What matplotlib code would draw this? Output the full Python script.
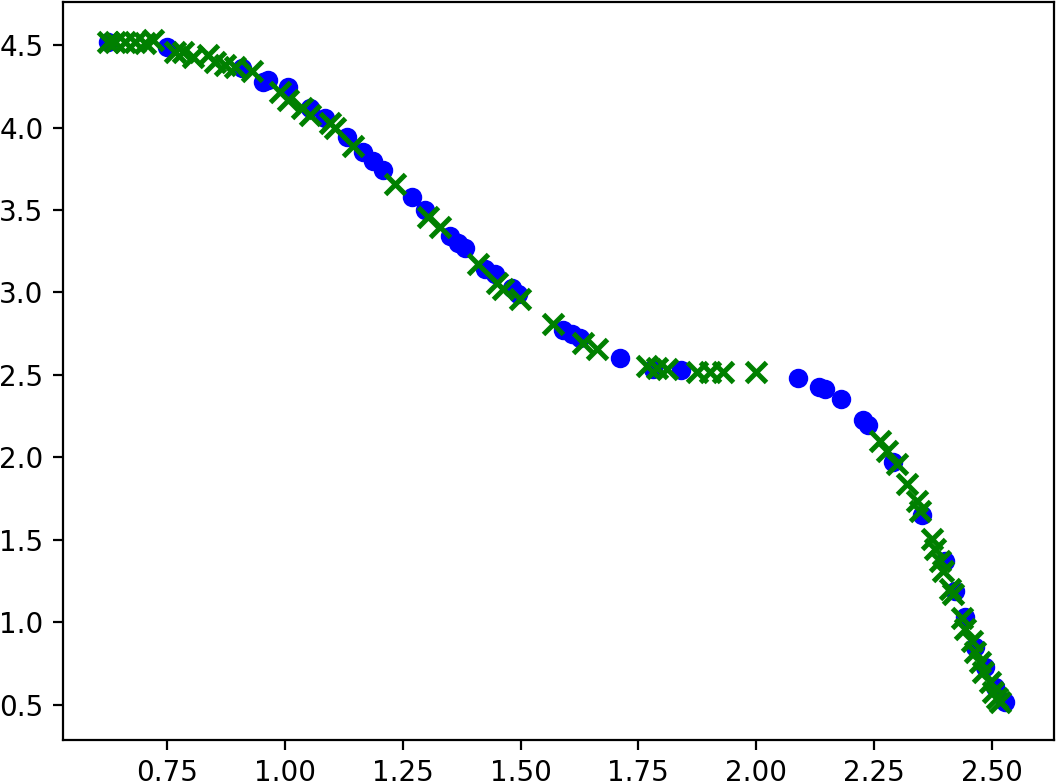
import numpy as np
import matplotlib
matplotlib.use('Agg')
import matplotlib.pyplot as plt

# ------------------------------------------------------------
# data (blue = circles, green = crosses)
# ------------------------------------------------------------
blue_x = [0.625, 0.75, 0.909, 0.954, 0.964, 1.007, 1.053, 1.085, 1.132, 1.166,
          1.187, 1.208, 1.27, 1.297, 1.35, 1.367, 1.382, 1.425, 1.446, 1.482,
          1.495, 1.59, 1.609, 1.626, 1.711, 1.781, 1.84, 2.089, 2.133, 2.146,
          2.18, 2.226, 2.237, 2.29, 2.352, 2.40, 2.422, 2.443, 2.464, 2.485,
          2.506, 2.528]
blue_y = [4.52, 4.49, 4.36, 4.275, 4.29, 4.245, 4.12, 4.06, 3.94, 3.85,
          3.80, 3.74, 3.58, 3.50, 3.345, 3.30, 3.27, 3.145, 3.115, 3.03,
          2.99, 2.77, 2.75, 2.725, 2.60, 2.535, 2.53, 2.48, 2.43, 2.415,
          2.355, 2.225, 2.195, 1.975, 1.65, 1.37, 1.19, 1.035, 0.85, 0.73,
          0.61, 0.52]

green_x = [0.625, 0.64, 0.661, 0.682, 0.703, 0.72, 0.767, 0.784, 0.805, 0.837,
           0.852, 0.873, 0.894, 0.93, 0.99, 1.007, 1.036, 1.053, 1.096, 1.106,
           1.145, 1.234, 1.304, 1.329, 1.41, 1.45, 1.463, 1.499, 1.569, 1.633,
           1.662, 1.768, 1.789, 1.811, 1.874, 1.902, 1.929, 2.0, 2.262, 2.277,
           2.299, 2.32, 2.341, 2.347, 2.373, 2.379, 2.39, 2.396, 2.411, 2.417,
           2.436, 2.443, 2.458, 2.464, 2.475, 2.481, 2.496, 2.502, 2.51, 2.517]
green_y = [4.52, 4.52, 4.52, 4.52, 4.51, 4.53, 4.455, 4.455, 4.43, 4.44,
           4.40, 4.38, 4.365, 4.34, 4.215, 4.165, 4.12, 4.075, 4.03, 4.0,
           3.89, 3.66, 3.455, 3.395, 3.175, 3.06, 3.02, 2.96, 2.81, 2.695,
           2.66, 2.555, 2.54, 2.535, 2.52, 2.52, 2.52, 2.52, 2.10, 2.04,
           1.96, 1.84, 1.735, 1.675, 1.505, 1.445, 1.37, 1.31, 1.205, 1.17,
           1.025, 0.96, 0.885, 0.82, 0.76, 0.70, 0.64, 0.58, 0.54, 0.52]

fig = plt.figure(figsize=(1058 / 200, 783 / 200), dpi=200)
ax = fig.add_axes([63 / 1058, 43 / 783, 991 / 1058, 738 / 783])

ax.plot(blue_x, blue_y, 'bo', markersize=6)
ax.plot(green_x, green_y, 'gx', markersize=7, markeredgewidth=1.8)

ax.set_xlim(0.529, 2.632)
ax.set_ylim(0.287, 4.761)
ax.set_xticks([0.75, 1.00, 1.25, 1.50, 1.75, 2.00, 2.25, 2.50])
ax.set_yticks([0.5, 1.0, 1.5, 2.0, 2.5, 3.0, 3.5, 4.0, 4.5])

fig.savefig('out.png', dpi=200)
